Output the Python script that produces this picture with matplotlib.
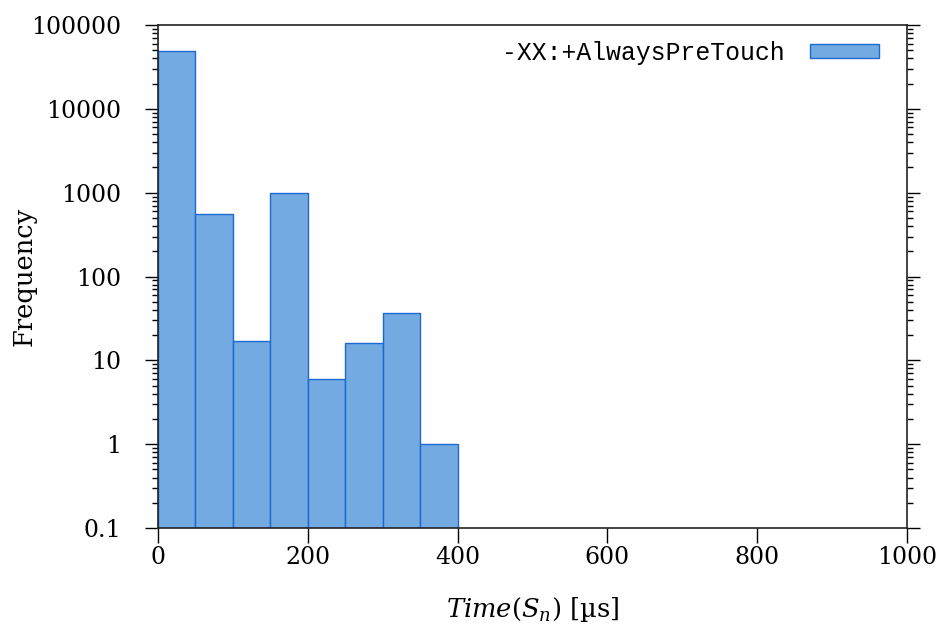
import matplotlib
matplotlib.use("Agg")
import matplotlib.pyplot as plt
from matplotlib.ticker import LogLocator, FixedLocator, NullFormatter, FixedFormatter

# Data
bin_edges = [0, 50, 100, 150, 200, 250, 300, 350, 400]
frequencies = [48500, 560, 17, 980, 6, 16, 37, 1]
series_label = "-XX:+AlwaysPreTouch"
x_ticks = [0, 200, 400, 600, 800, 1000]
y_ticks = [0.1, 1, 10, 100, 1000, 10000, 100000]
y_tick_labels = ["0.1", "1", "10", "100", "1000", "10000", "100000"]

plt.rcParams['font.family'] = ['DejaVu Serif']
plt.rcParams['mathtext.fontset'] = 'dejavuserif'

fig = plt.figure(figsize=(9.38, 6.28), dpi=100)
ax = fig.add_axes([158/938, 100/628, 749/938, 503/628])

lefts = bin_edges[:-1]
widths = [bin_edges[i+1] - bin_edges[i] for i in range(len(lefts))]
ax.bar(lefts, frequencies, width=widths, align='edge', bottom=1e-3,
       color='#73aae2', edgecolor='#1a6ad2', linewidth=1.0, label=series_label)

ax.set_yscale('log')
ax.set_ylim(0.1, 100000)
ax.set_xlim(0, 1000)

ax.xaxis.set_major_locator(FixedLocator(x_ticks))
ax.yaxis.set_major_locator(FixedLocator(y_ticks))
ax.yaxis.set_major_formatter(FixedFormatter(y_tick_labels))
ax.yaxis.set_minor_locator(LogLocator(base=10, subs=range(2, 10), numticks=20))
ax.yaxis.set_minor_formatter(NullFormatter())

for s in ax.spines.values():
    s.set_linewidth(1.2)
    s.set_color('#222222')
    s.set_zorder(5)

ax.tick_params(axis='x', which='major', direction='out', length=11, width=1,
               labelsize=17, pad=2, top=False)
ax.tick_params(axis='y', which='major', direction='out', length=9.5, width=1,
               labelsize=17, pad=17, right=True)
ax.tick_params(axis='y', which='minor', direction='out', length=4.5, width=1,
               right=True)

ax.set_xlabel(r'$\mathit{Time}(S_n)$ [µs]', fontsize=18.5, labelpad=19)
ax.set_ylabel('Frequency', fontsize=18.5, labelpad=-4)

leg = ax.legend(loc='upper right', bbox_to_anchor=(0.992, 1.012), frameon=False,
                markerfirst=False, handlelength=2.79, handleheight=0.5,
                handletextpad=1.0,
                prop={'family': 'Liberation Mono', 'size': 17.8})

fig.savefig('out.png', dpi=100)
